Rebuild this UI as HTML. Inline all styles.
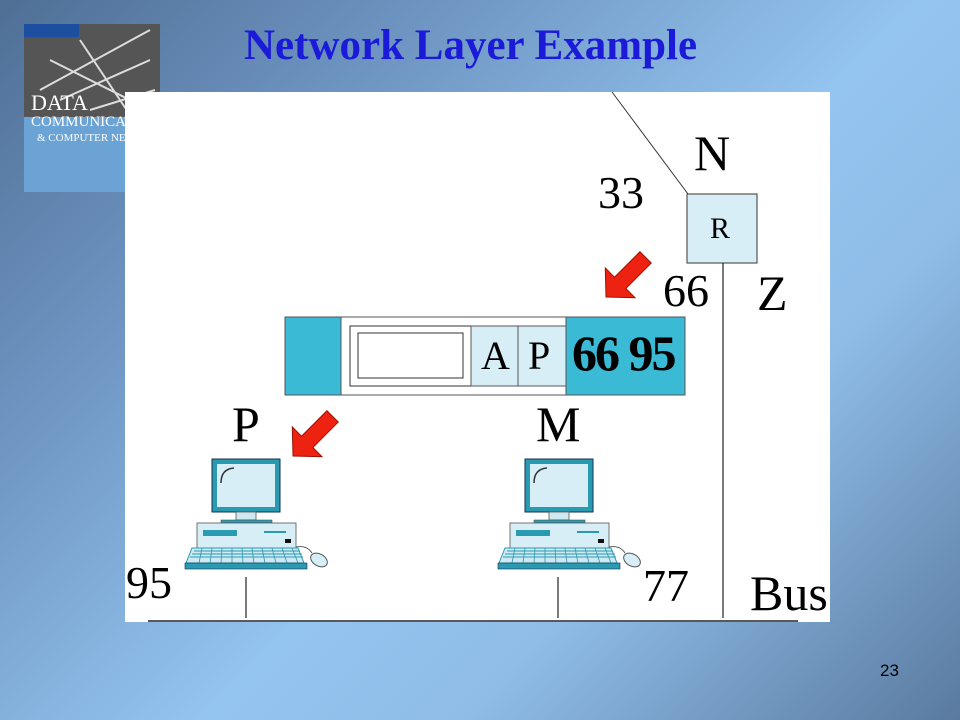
<!DOCTYPE html>
<html><head><meta charset="utf-8"><style>
html,body{margin:0;padding:0}
body{width:960px;height:720px;position:relative;overflow:hidden;
background:linear-gradient(135deg,#4f6f95 0%,#6d93c0 25%,#94c4f0 55%,#8fbde8 70%,#5a7aa0 100%);
font-family:"Liberation Serif",serif}
.t{position:absolute;white-space:nowrap;line-height:1;color:#000}
</style></head><body>
<svg width="960" height="720" style="position:absolute;left:0;top:0">
<defs>
<g id="pc">
 <rect x="0" y="0" width="68" height="53" fill="#2a9ab0" stroke="#135" stroke-width="1"/>
 <rect x="5" y="5" width="58" height="43" fill="#d7eef7"/>
 <path d="M9 24 Q9 10 22 9" stroke="#333" fill="none" stroke-width="1.5"/>
 <rect x="24" y="53" width="20" height="8" fill="#cfe9f3" stroke="#555" stroke-width="0.8"/>
 <rect x="9" y="61" width="51" height="3" fill="#2a9ab0" stroke="#555" stroke-width="0.6"/>
 <rect x="-15" y="64" width="99" height="25" fill="#d7eef7" stroke="#555" stroke-width="0.8"/>
 <rect x="-9" y="71" width="34" height="6" fill="#2a9ab0"/>
 <rect x="52" y="72" width="22" height="2" fill="#2a9ab0"/>
 <rect x="73" y="80" width="6" height="4" fill="#111"/>
 <path d="M-20 89 L86 89 L92 104 L-26 104 Z" fill="#cfe9f3" stroke="#2a9ab0" stroke-width="1"/>
 <path d="M-18 92 H88 M-20 95 H90 M-22 98 H91" stroke="#2a9ab0" stroke-width="1"/>
 <path d="M-10 89 L-13 104 M0 89 L-2 104 M10 89 L9 104 M20 89 L20 104 M30 89 L31 104 M40 89 L42 104 M50 89 L53 104 M60 89 L64 104 M70 89 L75 104 M80 89 L86 104" stroke="#2a9ab0" stroke-width="0.8"/>
 <rect x="-27" y="104" width="122" height="6" fill="#2a9ab0" stroke="#135" stroke-width="0.6"/>
 <path d="M84 88 Q95 86 100 94" stroke="#333" fill="none" stroke-width="0.8"/>
 <ellipse cx="107" cy="101" rx="9" ry="6" transform="rotate(30 107 101)" fill="#d7eef7" stroke="#555"/>
</g>
<g id="arr">
 <path d="M-8 -56 L8 -56 L8 -20 L21 -20 L0 0 L-21 -20 L-8 -20 Z" transform="rotate(45)" fill="#ee2211" stroke="#991100" stroke-width="1"/>
</g>
</defs>
<rect x="24" y="24" width="136" height="168" fill="#6aa3d4"/>
<rect x="24" y="24" width="136" height="93" fill="#555"/>
<rect x="24" y="24" width="55" height="13" fill="#1c4fa0"/>
<path d="M40 90 L150 30 M60 100 L150 60 M90 110 L155 90 M50 60 L150 110 M80 40 L130 115" stroke="#ddd" stroke-width="2"/>
<text x="31" y="110" font-family="Liberation Serif" font-size="22" fill="#fff">DATA</text>
<text x="31" y="126" font-family="Liberation Serif" font-size="15" fill="#fff">COMMUNICAT</text>
<text x="37" y="141" font-family="Liberation Serif" font-size="11" fill="#fff">&amp; COMPUTER NET</text>
<rect x="125" y="92" width="705" height="530" fill="#fff"/>
<line x1="612" y1="92" x2="688" y2="194" stroke="#333" stroke-width="1"/>
<rect x="687" y="194" width="70" height="69" fill="#d7eef7" stroke="#555" stroke-width="1.2"/>
<line x1="723" y1="263" x2="723" y2="618" stroke="#222" stroke-width="1.2"/>
<line x1="148" y1="621" x2="798" y2="621" stroke="#222" stroke-width="1.5"/>
<line x1="246" y1="577" x2="246" y2="618" stroke="#222" stroke-width="1.2"/>
<line x1="558" y1="577" x2="558" y2="618" stroke="#222" stroke-width="1.2"/>
<rect x="285" y="317" width="400" height="78" fill="#3bbad6" stroke="#555" stroke-width="1"/>
<rect x="341" y="317" width="225" height="78" fill="#fff" stroke="#555" stroke-width="1"/>
<rect x="350" y="326" width="121" height="60" fill="#fff" stroke="#333" stroke-width="1"/>
<rect x="358" y="333" width="105" height="45" fill="#fff" stroke="#333" stroke-width="1"/>
<rect x="471" y="326" width="95" height="60" fill="#d7eef7" stroke="#555" stroke-width="1"/>
<line x1="518" y1="326" x2="518" y2="386" stroke="#555"/>
<use href="#pc" x="212" y="459"/>
<use href="#pc" x="525" y="459"/>
<use href="#arr" x="606" y="297"/>
<use href="#arr" x="293" y="456"/>
</svg>
<div class="t" style="left:244px;top:24px;font-size:43px;font-weight:bold;color:#1a1ad8">Network Layer Example</div>
<div class="t" style="left:694px;top:128px;font-size:50px">N</div>
<div class="t" style="left:598px;top:170px;font-size:46px">33</div>
<div class="t" style="left:710px;top:214px;font-size:30px">R</div>
<div class="t" style="left:663px;top:268px;font-size:46px">66</div>
<div class="t" style="left:757px;top:268px;font-size:50px">Z</div>
<div class="t" style="left:481px;top:336px;font-size:40px">A</div>
<div class="t" style="left:528px;top:336px;font-size:40px">P</div>
<div class="t" style="left:572px;top:328px;font-size:50px;font-weight:bold;letter-spacing:-2px">66 95</div>
<div class="t" style="left:232px;top:399px;font-size:50px">P</div>
<div class="t" style="left:536px;top:399px;font-size:50px">M</div>
<div class="t" style="left:126px;top:560px;font-size:46px">95</div>
<div class="t" style="left:643px;top:563px;font-size:46px">77</div>
<div class="t" style="left:750px;top:568px;font-size:50px">Bus</div>
<div class="t" style="left:880px;top:662px;font-size:17px;font-family:'Liberation Sans',sans-serif">23</div>
</body></html>
